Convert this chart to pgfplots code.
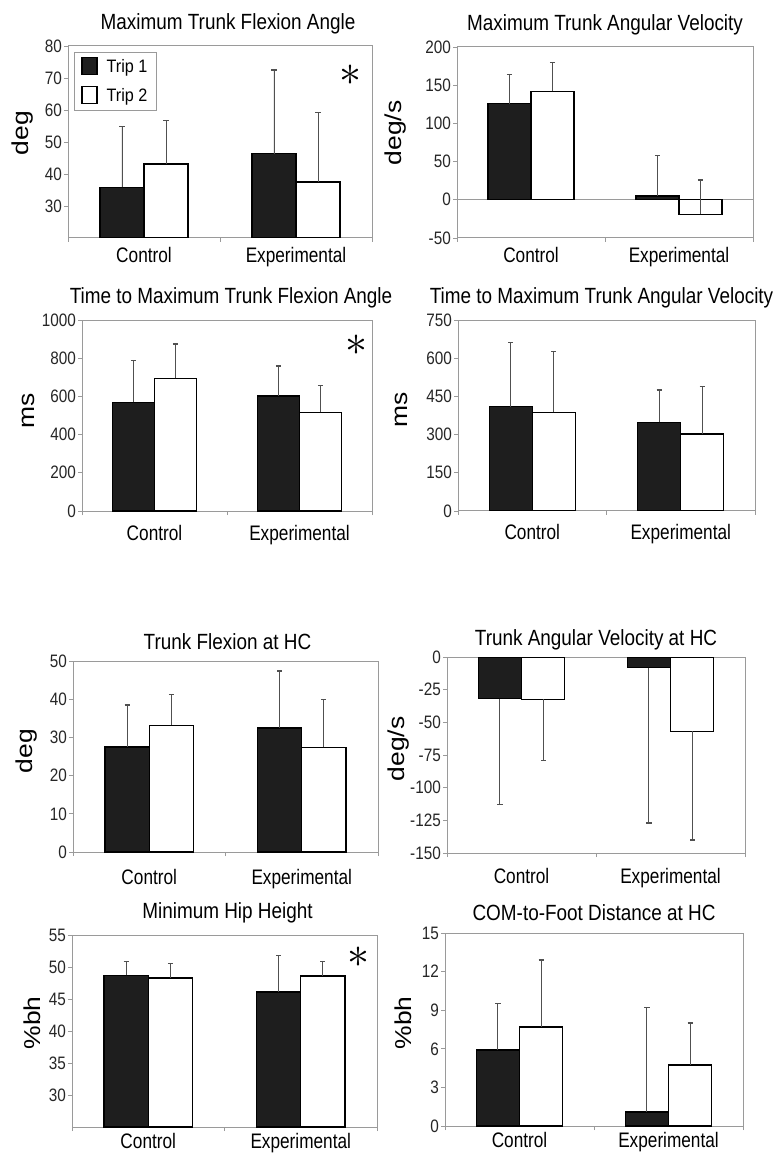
\documentclass[border=0pt]{standalone}
\usepackage{graphicx}
\usepackage{pgfplots}
\pgfplotsset{compat=1.18}
\usepackage{fontspec}
\setmainfont{Liberation Sans}[FakeStretch=0.9]
\newfontfamily\ylabfont{Liberation Sans}[FakeStretch=1.15]
\newfontfamily\titlefont{Liberation Sans}[FakeStretch=0.86]
\newfontfamily\catfont{Liberation Sans}[FakeStretch=0.82]
\newfontfamily\tickfont{Liberation Sans}[FakeStretch=0.85]
\definecolor{barblack}{HTML}{1E1E1E}
\definecolor{frame}{HTML}{9A9A9A}
\definecolor{errc}{HTML}{505050}

\pgfplotsset{
  panel/.style={
    scale only axis, anchor=north west,
    ybar, bar width=0.29,
    xmin=-0.5, xmax=1.5,
    xtick={-0.5,0.5,1.5},
    x tick label as interval,
    xticklabels={Control,Experimental},
    tick align=outside,
    major tick length=4pt,
    xtick pos=bottom, ytick pos=left,
    tick style={draw=frame, line width=0.8pt},
    axis line style={draw=frame, line width=1pt},
    /pgf/number format/assume math mode=true,
    /pgf/number format/1000 sep={},
    yticklabel style={font=\tickfont\fontsize{18}{18}\selectfont, text=black!85, anchor=east, inner sep=2pt},
    xticklabel style={font=\catfont\fontsize{21}{21}\selectfont, anchor=base},
    title style={font=\titlefont\fontsize{22}{24}\selectfont, anchor=base, at={(0.5,1)}},
    ylabel style={font=\ylabfont\fontsize{23}{23}\selectfont, anchor=center},
    legend image code/.code={\draw[#1] (0pt,-8pt) rectangle (15pt,9pt);},
  },
  errs/.style={
    error bars/y dir=plus, error bars/y explicit,
    error bars/error mark=-,
    error bars/error bar style={errc, line width=0.9pt},
    error bars/error mark options={errc, mark size=2.6pt, line width=1.2pt, rotate=90}},
  t1/.style={fill=barblack, draw=black, line width=1.3pt, bar shift=-0.145, errs},
  t2/.style={fill=white, draw=black, line width=1.3pt, bar shift=0.145, errs},
}
\newcommand{\sigstar}{\scalebox{4.4}{$\ast$}}

\begin{document}
\begin{tikzpicture}
\useasboundingbox (0pt,0pt) rectangle (775pt,-1155pt);
\fill[white] (0pt,0pt) rectangle (775pt,-1155pt);

% Panel 1
\begin{axis}[panel, at={(68pt,-46pt)}, width=304pt, height=192pt,
  ymin=20, ymax=80, ytick={30,40,...,80},
  title={Maximum Trunk Flexion Angle}, title style={yshift=10pt, xshift=8pt},
  ylabel={deg}, ylabel style={at={(axis description cs:-0.151,0.547)}},
  xticklabel style={yshift=-20.5pt},
  legend style={at={(axis description cs:0.02,0.969)}, anchor=north west,
    draw=frame, fill=white, font=\fontsize{18}{18}\selectfont,
    inner xsep=7pt, inner ysep=5pt, row sep=10pt, column sep=7pt},
  legend cell align=left]
\addplot[t1] coordinates {(0,35.8) +- (0,19.0) (1,46.3) +- (0,26.2)};
\addplot[t2] coordinates {(0,43.1) +- (0,13.5) (1,37.5) +- (0,21.8)};
\legend{Trip 1, Trip 2}
\node at (axis description cs:0.928,0.849) {\sigstar};
\end{axis}

% Panel 2
\begin{axis}[panel, at={(457pt,-47pt)}, width=296pt, height=191pt,
  ymin=-50, ymax=200, ytick={-50,0,...,200},
  title={Maximum Trunk Angular Velocity}, title style={yshift=10pt},
  ylabel={deg/s}, ylabel style={at={(axis description cs:-0.206,0.550)}},
  xticklabel style={yshift=-20.5pt}]
\draw[frame, line width=0.8pt] (axis cs:-0.5,0) -- (axis cs:1.5,0);
\addplot[t1] coordinates {(0,126) +- (0,38) (1,5) +- (0,53)};
\addplot[t2] coordinates {(0,142) +- (0,38) (1,-19) +- (0,45)};
\end{axis}

% Panel 3
\begin{axis}[panel, at={(82pt,-320pt)}, width=290pt, height=191pt,
  ymin=0, ymax=1000, ytick={0,200,...,1000},
  title={Time to Maximum Trunk Flexion Angle}, title style={yshift=11pt, xshift=4pt},
  ylabel={ms}, ylabel style={at={(axis description cs:-0.186,0.524)}},
  xticklabel style={yshift=-25.5pt}]
\addplot[t1] coordinates {(0,569) +- (0,218) (1,602) +- (0,157)};
\addplot[t2] coordinates {(0,695) +- (0,179) (1,517) +- (0,139)};
\node at (axis description cs:0.948,0.869) {\sigstar};
\end{axis}

% Panel 4
\begin{axis}[panel, at={(458pt,-320pt)}, width=297pt, height=191pt,
  ymin=0, ymax=750, ytick={0,150,...,750},
  title={Time to Maximum Trunk Angular Velocity}, title style={yshift=11pt, xshift=-5pt},
  ylabel={ms}, ylabel style={at={(axis description cs:-0.189,0.529)}},
  xticklabel style={yshift=-24.5pt}]
\addplot[t1] coordinates {(0,410) +- (0,252) (1,348) +- (0,127)};
\addplot[t2] coordinates {(0,387) +- (0,239) (1,302) +- (0,186)};
\end{axis}

% Panel 5
\begin{axis}[panel, at={(73pt,-661pt)}, width=305pt, height=191pt,
  ymin=0, ymax=50, ytick={0,10,...,50},
  title={Trunk Flexion at HC}, title style={yshift=6pt, xshift=2pt},
  ylabel={deg}, ylabel style={at={(axis description cs:-0.151,0.529)}},
  xticklabel style={yshift=-28.5pt}]
\addplot[t1] coordinates {(0,27.5) +- (0,11.0) (1,32.5) +- (0,14.9)};
\addplot[t2] coordinates {(0,33.2) +- (0,8.1) (1,27.4) +- (0,12.6)};
\end{axis}

% Panel 6
\begin{axis}[panel, at={(447pt,-657pt)}, width=298pt, height=196pt,
  ymin=-150, ymax=0, ytick={-150,-125,...,0},
  title={Trunk Angular Velocity at HC}, title style={yshift=6pt},
  ylabel={deg/s}, ylabel style={at={(axis description cs:-0.164,0.531)}},
  xticklabel style={yshift=-26.5pt}]
\addplot[t1, error bars/y dir=minus] coordinates {(0,-31.8) +- (0,81.2) (1,-8.1) +- (0,118.9)};
\addplot[t2, error bars/y dir=minus] coordinates {(0,-32.3) +- (0,46.7) (1,-57) +- (0,83)};
\end{axis}

% Panel 7
\begin{axis}[panel, at={(72pt,-935pt)}, width=305pt, height=192pt,
  ymin=25, ymax=55, ytick={30,35,...,55},
  title={Minimum Hip Height}, title style={yshift=11pt, xshift=3pt},
  ylabel={\%bh}, ylabel style={at={(axis description cs:-0.131,0.542)}},
  xticklabel style={yshift=-17.5pt}]
\addplot[t1] coordinates {(0,48.7) +- (0,2.2) (1,46.1) +- (0,5.7)};
\addplot[t2] coordinates {(0,48.3) +- (0,2.2) (1,48.6) +- (0,2.3)};
\node at (axis description cs:0.938,0.885) {\sigstar};
\end{axis}

% Panel 8
\begin{axis}[panel, at={(445pt,-933pt)}, width=298pt, height=193pt,
  ymin=0, ymax=15, ytick={0,3,...,15},
  title={COM-to-Foot Distance at HC}, title style={yshift=7pt},
  ylabel={\%bh}, ylabel style={at={(axis description cs:-0.141,0.534)}},
  xticklabel style={yshift=-17.5pt}]
\addplot[t1] coordinates {(0,5.9) +- (0,3.6) (1,1.1) +- (0,8.1)};
\addplot[t2] coordinates {(0,7.7) +- (0,5.2) (1,4.75) +- (0,3.25)};
\end{axis}
\end{tikzpicture}
\end{document}
